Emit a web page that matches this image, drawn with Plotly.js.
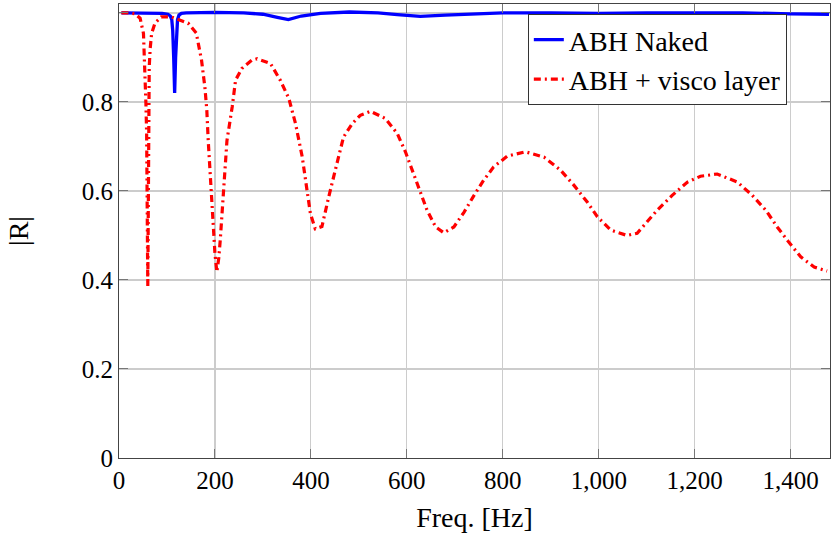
<!DOCTYPE html>
<html>
<head>
<meta charset="utf-8">
<script src="https://cdn.plot.ly/plotly-3.0.1.min.js"></script>
<style>
html,body{margin:0;padding:0;background:#fff;font-family:"Liberation Serif";}
#chart{width:831px;height:535px;position:relative;}
#preload{position:absolute;left:0;top:0;visibility:hidden;font-family:"Liberation Serif";font-size:28px;}
</style>
</head>
<body>
<div id="preload" aria-hidden="true">0</div>
<div id="chart"></div>
<script>
// ABH Naked
const nakedFreq = [5, 50, 90, 102, 107, 110, 112, 114, 116, 118, 120, 122, 125, 130, 140, 200, 260, 300, 330, 353, 380, 420, 480, 540, 580, 628, 680, 750, 800, 900, 1000, 1100, 1200, 1300, 1400, 1480];
const nakedR    = [1.0, 1.0, 0.999, 0.997, 0.993, 0.985, 0.96, 0.90, 0.82, 0.90, 0.96, 0.985, 0.995, 0.999, 1.0, 1.001, 1.0, 0.997, 0.99, 0.985, 0.993, 0.999, 1.002, 1.0, 0.996, 0.992, 0.995, 0.999, 1.0, 1.0, 0.999, 1.0, 1.0, 1.0, 0.998, 0.997];

// ABH + visco layer
const viscoFreq = [5, 20, 33, 40, 44, 51, 54, 56, 57.6, 59, 60, 61, 62, 63, 65, 68, 75, 88, 109, 127, 144, 161, 172, 179, 183, 186, 193, 200, 204, 208, 211, 218, 225, 236, 243, 256, 277, 288, 316, 336, 354, 368, 382, 392, 399, 409, 423, 437, 448, 455, 468, 486, 503, 524, 555, 580, 597, 614, 628, 642, 660, 677, 698, 719, 740, 760, 781, 809, 847, 886, 920, 948, 976, 997, 1025, 1059, 1080, 1094, 1122, 1153, 1185, 1212, 1247, 1289, 1320, 1348, 1372, 1396, 1421, 1449, 1476];
const viscoR    = [1.0, 1.0, 0.998, 0.993, 0.988, 0.954, 0.878, 0.80, 0.73, 0.505, 0.386, 0.55, 0.75, 0.878, 0.92, 0.954, 0.977, 0.991, 0.991, 0.983, 0.977, 0.955, 0.894, 0.833, 0.782, 0.713, 0.579, 0.459, 0.418, 0.45, 0.489, 0.601, 0.713, 0.789, 0.849, 0.875, 0.894, 0.897, 0.886, 0.849, 0.808, 0.751, 0.676, 0.601, 0.549, 0.515, 0.52, 0.586, 0.639, 0.665, 0.721, 0.751, 0.770, 0.779, 0.763, 0.729, 0.688, 0.639, 0.594, 0.557, 0.519, 0.506, 0.519, 0.552, 0.590, 0.624, 0.654, 0.678, 0.688, 0.676, 0.647, 0.613, 0.575, 0.542, 0.512, 0.500, 0.505, 0.523, 0.557, 0.590, 0.620, 0.633, 0.638, 0.620, 0.590, 0.557, 0.519, 0.485, 0.452, 0.429, 0.420];

const seriesNames = ["ABH Naked", "ABH + visco layer"];
const xTickVals = [0, 200, 400, 600, 800, 1000, 1200, 1400];
const yTickVals = [0, 0.2, 0.4, 0.6, 0.8, 1];
const xTitle = "Freq. [Hz]";
const yTitle = "|R|";

const serif = "Liberation Serif";

const traces = [
  {x: nakedFreq, y: nakedR, name: seriesNames[0], mode: "lines",
   line: {color: "#0000ff", width: 3.3}},
  {x: viscoFreq, y: viscoR, name: seriesNames[1], mode: "lines",
   line: {color: "#ff0000", width: 3.2, dash: "7px,4px,2px,4px"}}
];

const axisCommon = {
  showline: true, mirror: "ticks", linecolor: "#444", linewidth: 1,
  showgrid: true, gridcolor: "#cccccc", gridwidth: 1.2,
  ticks: "inside", ticklen: 9, tickcolor: "#777", tickwidth: 1,
  zeroline: false,
  tickfont: {family: serif, size: 25, color: "#000"}
};

const layout = {
  width: 831, height: 535,
  margin: {l: 119, r: 1, t: 4, b: 77},
  font: {family: serif, color: "#000"},
  xaxis: Object.assign({}, axisCommon, {
    range: [0, 1482], tickvals: xTickVals, tickformat: ",d",
    title: {text: xTitle, font: {family: serif, size: 28, color: "#000"}, standoff: 14}
  }),
  yaxis: Object.assign({}, axisCommon, {
    range: [0, 1.02], tickvals: yTickVals,
    title: {text: yTitle, font: {family: serif, size: 28, color: "#000"}, standoff: 44}
  }),
  legend: {
    x: 0.575, y: 0.978, xanchor: "left", yanchor: "top",
    bgcolor: "#fff", bordercolor: "#333", borderwidth: 1,
    font: {family: serif, size: 28, color: "#000"}
  }
};

Plotly.newPlot("chart", traces, layout, {displayModeBar: false, staticPlot: true}).then(function (gd) {
  // force a style/layout pass on the drawn texts (same as the working test page)
  const texts = gd.querySelectorAll("text");
  let acc = 0;
  texts.forEach(function (t) {
    acc += getComputedStyle(t).fontFamily.length;
    try { acc += t.getBBox().width; } catch (e) {}
  });
  gd.setAttribute("data-measured", String(acc));
});
</script>
</body>
</html>
